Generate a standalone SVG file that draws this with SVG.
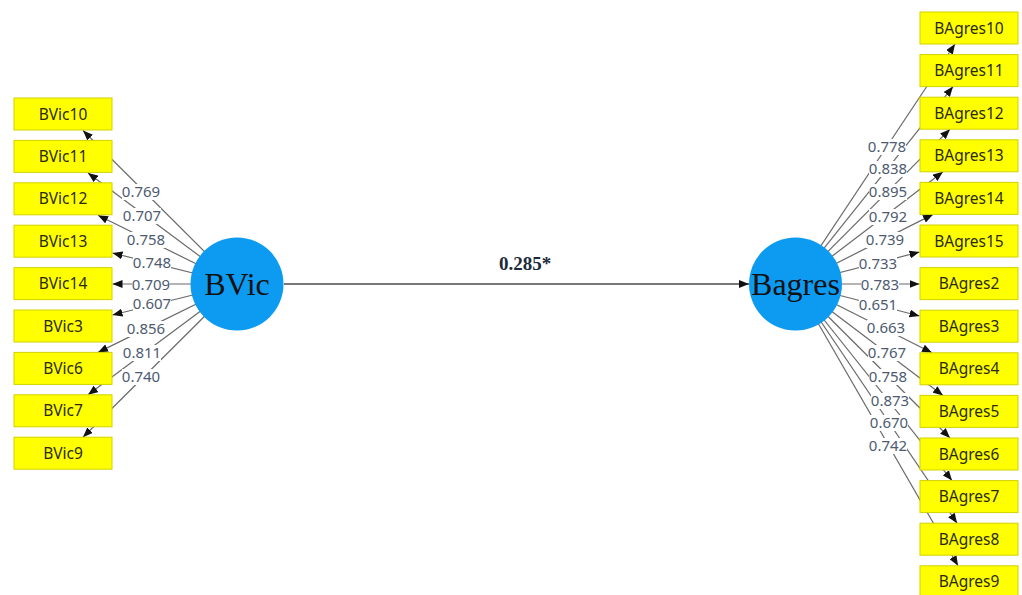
<svg xmlns="http://www.w3.org/2000/svg" width="1022" height="595" viewBox="0 0 1022 595">
<style>
.box{fill:#ffff00;stroke:#d2d200;stroke-width:1}
.bt{font-family:"Noto Sans","Liberation Sans",sans-serif;font-size:15.5px;fill:#2a2a10;text-anchor:middle}
.lv{fill:#0d9bf2}
.lt{font-family:"Liberation Serif",serif;font-size:32px;fill:#111;text-anchor:middle}
.ed{stroke:#6a6a6a;stroke-width:1.2;fill:none;marker-end:url(#ah)}
.lb{fill:#fff}
.lbt{font-family:"Noto Sans","Liberation Sans",sans-serif;font-size:15px;fill:#4d5b70;text-anchor:middle}
</style>
<defs>
<marker id="ah" markerUnits="userSpaceOnUse" markerWidth="10" markerHeight="8" refX="10" refY="4" orient="auto">
<path d="M0,0 L10,4 L0,8 z" fill="#111"/>
</marker>
</defs>
<rect width="1022" height="595" fill="#fff"/>
<g id="connectors">
<line class="ed" x1="284" y1="284" x2="749" y2="284" style="stroke-width:2;stroke:#777"/>
<line class="ed" x1="237" y1="284" x2="83" y2="130.5"/>
<line class="ed" x1="237" y1="284" x2="88" y2="172.9"/>
<line class="ed" x1="237" y1="284" x2="98" y2="215.3"/>
<line class="ed" x1="237" y1="284" x2="112.5" y2="253"/>
<line class="ed" x1="237" y1="284" x2="112.5" y2="284"/>
<line class="ed" x1="237" y1="284" x2="112.5" y2="315"/>
<line class="ed" x1="237" y1="284" x2="98" y2="352.4"/>
<line class="ed" x1="237" y1="284" x2="88" y2="394.8"/>
<line class="ed" x1="237" y1="284" x2="83" y2="437.2"/>
<line class="ed" x1="795.5" y1="284" x2="955" y2="44"/>
<line class="ed" x1="795.5" y1="284" x2="953" y2="86.6"/>
<line class="ed" x1="795.5" y1="284" x2="950" y2="129.2"/>
<line class="ed" x1="795.5" y1="284" x2="943" y2="171.8"/>
<line class="ed" x1="795.5" y1="284" x2="933" y2="214.4"/>
<line class="ed" x1="795.5" y1="284" x2="919.5" y2="252"/>
<line class="ed" x1="795.5" y1="284" x2="919.5" y2="284"/>
<line class="ed" x1="795.5" y1="284" x2="919.5" y2="316"/>
<line class="ed" x1="795.5" y1="284" x2="932" y2="352.8"/>
<line class="ed" x1="795.5" y1="284" x2="943" y2="395.4"/>
<line class="ed" x1="795.5" y1="284" x2="950" y2="438"/>
<line class="ed" x1="795.5" y1="284" x2="952" y2="480.6"/>
<line class="ed" x1="795.5" y1="284" x2="957" y2="523.2"/>
<line class="ed" x1="795.5" y1="284" x2="958" y2="565.8"/>
<g id="edge-labels">
<text x="525" y="270" style="font-family:'Liberation Serif',serif;font-size:19px;font-weight:bold;fill:#1a2a3a" text-anchor="middle">0.285*</text>
<rect class="lb" x="122" y="184" width="38" height="16"/><text class="lbt" x="141" y="197.3">0.769</text>
<rect class="lb" x="123" y="208" width="38" height="16"/><text class="lbt" x="142" y="221.3">0.707</text>
<rect class="lb" x="127" y="232" width="38" height="16"/><text class="lbt" x="146" y="245.3">0.758</text>
<rect class="lb" x="133" y="255" width="38" height="16"/><text class="lbt" x="152" y="268.3">0.748</text>
<rect class="lb" x="132" y="277" width="38" height="16"/><text class="lbt" x="151" y="290.3">0.709</text>
<rect class="lb" x="133" y="296" width="38" height="16"/><text class="lbt" x="152" y="309.3">0.607</text>
<rect class="lb" x="127" y="321" width="38" height="16"/><text class="lbt" x="146" y="334.3">0.856</text>
<rect class="lb" x="123" y="345" width="38" height="16"/><text class="lbt" x="142" y="358.3">0.811</text>
<rect class="lb" x="122" y="369" width="38" height="16"/><text class="lbt" x="141" y="382.3">0.740</text>
<rect class="lb" x="868" y="139" width="38" height="16"/><text class="lbt" x="887" y="152.3">0.778</text>
<rect class="lb" x="869" y="161" width="38" height="16"/><text class="lbt" x="888" y="174.3">0.838</text>
<rect class="lb" x="869" y="184" width="38" height="16"/><text class="lbt" x="888" y="197.3">0.895</text>
<rect class="lb" x="869" y="209" width="38" height="16"/><text class="lbt" x="888" y="222.3">0.792</text>
<rect class="lb" x="866" y="232" width="38" height="16"/><text class="lbt" x="885" y="245.3">0.739</text>
<rect class="lb" x="859" y="256" width="38" height="16"/><text class="lbt" x="878" y="269.3">0.733</text>
<rect class="lb" x="861" y="277" width="38" height="16"/><text class="lbt" x="880" y="290.3">0.783</text>
<rect class="lb" x="859" y="297" width="38" height="16"/><text class="lbt" x="878" y="310.3">0.651</text>
<rect class="lb" x="867" y="320" width="38" height="16"/><text class="lbt" x="886" y="333.3">0.663</text>
<rect class="lb" x="868" y="345" width="38" height="16"/><text class="lbt" x="887" y="358.3">0.767</text>
<rect class="lb" x="869" y="369" width="38" height="16"/><text class="lbt" x="888" y="382.3">0.758</text>
<rect class="lb" x="871" y="393" width="38" height="16"/><text class="lbt" x="890" y="406.3">0.873</text>
<rect class="lb" x="870" y="415" width="38" height="16"/><text class="lbt" x="889" y="428.3">0.670</text>
<rect class="lb" x="869" y="438" width="38" height="16"/><text class="lbt" x="888" y="451.3">0.742</text>
</g>
</g>
<g id="BVic"><circle class="lv" cx="237" cy="284" r="46.5"/><text class="lt" x="237" y="295">BVic</text></g>
<g id="Bagres"><circle class="lv" cx="795.5" cy="284" r="46.5"/><text class="lt" x="795.5" y="295">Bagres</text></g>
<g id="BVic10"><rect class="box" x="14" y="98" width="98" height="32"/><text class="bt" x="63" y="119.5">BVic10</text></g>
<g id="BVic11"><rect class="box" x="14" y="140.4" width="98" height="32"/><text class="bt" x="63" y="161.9">BVic11</text></g>
<g id="BVic12"><rect class="box" x="14" y="182.8" width="98" height="32"/><text class="bt" x="63" y="204.3">BVic12</text></g>
<g id="BVic13"><rect class="box" x="14" y="225.2" width="98" height="32"/><text class="bt" x="63" y="246.7">BVic13</text></g>
<g id="BVic14"><rect class="box" x="14" y="267.6" width="98" height="32"/><text class="bt" x="63" y="289.1">BVic14</text></g>
<g id="BVic3"><rect class="box" x="14" y="310" width="98" height="32"/><text class="bt" x="63" y="331.5">BVic3</text></g>
<g id="BVic6"><rect class="box" x="14" y="352.4" width="98" height="32"/><text class="bt" x="63" y="373.9">BVic6</text></g>
<g id="BVic7"><rect class="box" x="14" y="394.8" width="98" height="32"/><text class="bt" x="63" y="416.3">BVic7</text></g>
<g id="BVic9"><rect class="box" x="14" y="437.2" width="98" height="32"/><text class="bt" x="63" y="458.7">BVic9</text></g>
<g id="BAgres10"><rect class="box" x="920" y="12" width="98" height="32"/><text class="bt" x="969" y="33.5">BAgres10</text></g>
<g id="BAgres11"><rect class="box" x="920" y="54.6" width="98" height="32"/><text class="bt" x="969" y="76.1">BAgres11</text></g>
<g id="BAgres12"><rect class="box" x="920" y="97.2" width="98" height="32"/><text class="bt" x="969" y="118.7">BAgres12</text></g>
<g id="BAgres13"><rect class="box" x="920" y="139.8" width="98" height="32"/><text class="bt" x="969" y="161.3">BAgres13</text></g>
<g id="BAgres14"><rect class="box" x="920" y="182.4" width="98" height="32"/><text class="bt" x="969" y="203.9">BAgres14</text></g>
<g id="BAgres15"><rect class="box" x="920" y="225" width="98" height="32"/><text class="bt" x="969" y="246.5">BAgres15</text></g>
<g id="BAgres2"><rect class="box" x="920" y="267.6" width="98" height="32"/><text class="bt" x="969" y="289.1">BAgres2</text></g>
<g id="BAgres3"><rect class="box" x="920" y="310.2" width="98" height="32"/><text class="bt" x="969" y="331.7">BAgres3</text></g>
<g id="BAgres4"><rect class="box" x="920" y="352.8" width="98" height="32"/><text class="bt" x="969" y="374.3">BAgres4</text></g>
<g id="BAgres5"><rect class="box" x="920" y="395.4" width="98" height="32"/><text class="bt" x="969" y="416.9">BAgres5</text></g>
<g id="BAgres6"><rect class="box" x="920" y="438" width="98" height="32"/><text class="bt" x="969" y="459.5">BAgres6</text></g>
<g id="BAgres7"><rect class="box" x="920" y="480.6" width="98" height="32"/><text class="bt" x="969" y="502.1">BAgres7</text></g>
<g id="BAgres8"><rect class="box" x="920" y="523.2" width="98" height="32"/><text class="bt" x="969" y="544.7">BAgres8</text></g>
<g id="BAgres9"><rect class="box" x="920" y="565.8" width="98" height="32"/><text class="bt" x="969" y="587.3">BAgres9</text></g>
</svg>
